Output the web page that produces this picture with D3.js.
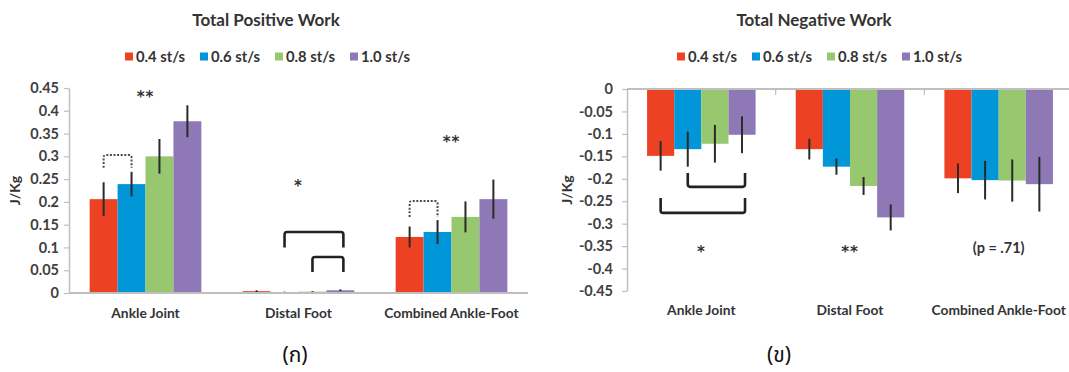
<!DOCTYPE html>
<html>
<head>
<meta charset="utf-8">
<script src="https://cdn.jsdelivr.net/npm/d3@7"></script>
<style>
  html, body { margin: 0; padding: 0; background: #fff; }
  svg { display: block; font-family: Lato, "Open Sans", sans-serif; }
  .caption { font-family: Tahoma, "Noto Sans Thai", "Noto Sans", "DejaVu Sans", sans-serif; }
</style>
</head>
<body>
<svg id="chart" width="1069" height="372"></svg>
<script>
// ---- data ----
const categories = ["Ankle Joint", "Distal Foot", "Combined Ankle-Foot"];
const speeds = ["0.4 st/s", "0.6 st/s", "0.8 st/s", "1.0 st/s"];

// Total positive work (J/Kg), one row per category, one value per speed
const positiveWork = [
  [0.206, 0.239, 0.300, 0.377],
  [0.004, 0.002, 0.003, 0.006],
  [0.123, 0.134, 0.167, 0.206]
];
const positiveErr = [
  [0.037, 0.027, 0.038, 0.035],
  [0.002, 0.001, 0.001, 0.002],
  [0.023, 0.026, 0.034, 0.043]
];

// Total negative work (J/Kg)
const negativeWork = [
  [-0.149, -0.134, -0.122, -0.102],
  [-0.134, -0.173, -0.216, -0.286],
  [-0.199, -0.203, -0.204, -0.212]
];
const negativeErr = [
  [0.033, 0.039, 0.042, 0.041],
  [0.023, 0.018, 0.020, 0.029],
  [0.033, 0.043, 0.047, 0.061]
];

const positiveTicks = [0, 0.05, 0.1, 0.15, 0.2, 0.25, 0.3, 0.35, 0.4, 0.45];
const positiveTickLabels = ["0", "0.05", "0.1", "0.15", "0.2", "0.25", "0.3", "0.35", "0.4", "0.45"];
const negativeTicks = [0, -0.05, -0.1, -0.15, -0.2, -0.25, -0.3, -0.35, -0.4, -0.45];
const negativeTickLabels = ["0", "-0.05", "-0.1", "-0.15", "-0.2", "-0.25", "-0.3", "-0.35", "-0.4", "-0.45"];

// significance marks: category index, label, value level
const positiveSig = [
  { cat: 0, label: "**", level: 0.439 },
  { cat: 1, label: "*", level: 0.244 },
  { cat: 2, label: "**", level: 0.342 }
];
const negativeSig = [
  { cat: 0, label: "*", level: -0.354 },
  { cat: 1, label: "**", level: -0.354 },
  { cat: 2, label: "(p = .71)", level: -0.354 }
];

// pairwise comparison brackets: category, from speed, to speed, leg start, leg end
const positiveBrackets = [
  { cat: 0, from: 0, to: 1, start: 0.275, end: 0.303, dotted: true },
  { cat: 2, from: 0, to: 1, start: 0.167, end: 0.202, dotted: true },
  { cat: 1, from: 1, to: 3, start: 0.100, end: 0.134, dotted: false },
  { cat: 1, from: 2, to: 3, start: 0.046, end: 0.079, dotted: false }
];
const negativeBrackets = [
  { cat: 0, from: 1, to: 3, start: -0.187, end: -0.218, dotted: false },
  { cat: 0, from: 0, to: 3, start: -0.243, end: -0.276, dotted: false }
];

// ---- styling ----
const palette = ["#ED4124", "#0096D8", "#97C76E", "#8E79B6"];
const axisGrey = "#BFBFBF";
const textDark = "#333333";
const tickText = "#404040";

const svg = d3.select("#chart");

function bracketPath(x1, x2, yStart, yEnd) {
  const r = 2.5;
  const dir = yEnd < yStart ? -1 : 1;
  return `M${x1},${yStart} L${x1},${yEnd - dir * r} Q${x1},${yEnd} ${x1 + r},${yEnd}` +
         ` L${x2 - r},${yEnd} Q${x2},${yEnd} ${x2},${yEnd - dir * r} L${x2},${yStart}`;
}

function drawLegend(g, x0, y0) {
  const item = g.append("g").attr("transform", `translate(${x0},${y0})`)
    .selectAll("g").data(speeds).join("g")
    .attr("transform", (d, i) => `translate(${i * 75},0)`);
  item.append("rect").attr("x", 0).attr("y", -4.5).attr("width", 8).attr("height", 8)
    .attr("fill", (d, i) => palette[i]);
  item.append("text").attr("x", 11).attr("y", 4.5)
    .attr("font-size", 14.8).attr("font-weight", "bold").attr("fill", textDark).text(d => d);
}

function drawPanel(cfg) {
  const g = svg.append("g");
  const x = d3.scaleBand().domain(categories).range(cfg.xRange)
    .paddingInner(cfg.pad).paddingOuter(cfg.pad / 2);
  const xs = d3.scaleBand().domain(d3.range(speeds.length)).range([0, x.bandwidth()]);
  const y = d3.scaleLinear().domain(cfg.yDomain).range(cfg.yRange);

  // title + legend
  g.append("text").attr("x", cfg.titleX).attr("y", 26).attr("text-anchor", "middle")
    .attr("font-size", 17).attr("font-weight", "bold").attr("fill", textDark).text(cfg.title);
  drawLegend(g, cfg.legendX, 57);

  // y axis
  const yAxis = g.append("g").attr("transform", `translate(${cfg.xRange[0]},0)`)
    .call(d3.axisLeft(y).tickValues(cfg.ticks).tickSize(5).tickSizeOuter(0)
      .tickPadding(cfg.tickPad).tickFormat((d, i) => cfg.tickLabels[i]));
  yAxis.select(".domain").attr("stroke", axisGrey).attr("stroke-width", 1.5);
  yAxis.selectAll(".tick line").attr("stroke", axisGrey).attr("stroke-width", 1.2);
  yAxis.selectAll(".tick text").attr("font-size", 14.5).attr("font-weight", "bold")
    .attr("fill", tickText).attr("font-family", "Lato, sans-serif");

  g.append("text")
    .attr("transform", `translate(${cfg.yLabelX},${(cfg.yRange[0] + cfg.yRange[1]) / 2}) rotate(-90)`)
    .attr("text-anchor", "middle").attr("dy", "0.35em")
    .attr("font-size", 14).attr("font-weight", "bold").attr("fill", textDark).text("J/Kg");

  // bars
  const rows = categories.map((c, ci) => cfg.values[ci].map((v, si) => ({ c, ci, si, v, e: cfg.errors[ci][si] })));
  const groups = g.append("g").selectAll("g").data(rows).join("g")
    .attr("transform", (d, i) => `translate(${x(categories[i])},0)`);
  groups.selectAll("rect").data(d => d).join("rect")
    .attr("x", d => xs(d.si)).attr("width", xs.bandwidth())
    .attr("y", d => Math.min(y(0), y(d.v)))
    .attr("height", d => Math.abs(y(d.v) - y(0)))
    .attr("fill", d => palette[d.si]);
  groups.selectAll("line.err").data(d => d).join("line").attr("class", "err")
    .attr("x1", d => xs(d.si) + xs.bandwidth() / 2).attr("x2", d => xs(d.si) + xs.bandwidth() / 2)
    .attr("y1", d => y(d.v - d.e)).attr("y2", d => y(d.v + d.e))
    .attr("stroke", "#2a2a2a").attr("stroke-width", 2);

  // zero line
  g.append("line").attr("x1", cfg.xRange[0]).attr("x2", Math.min(cfg.xRange[1], 1069))
    .attr("y1", y(0)).attr("y2", y(0)).attr("stroke", axisGrey).attr("stroke-width", 2);
  if (cfg.boundaryTicks) {
    const gap = (x.step() - x.bandwidth()) / 2;
    g.append("g").selectAll("line").data(categories.slice(0, -1)).join("line")
      .attr("x1", d => x(d) + x.bandwidth() + gap).attr("x2", d => x(d) + x.bandwidth() + gap)
      .attr("y1", y(0)).attr("y2", y(0) + 6).attr("stroke", axisGrey).attr("stroke-width", 1.2);
  }

  // category labels
  const xAxis = g.append("g").attr("transform", `translate(0,${cfg.catY})`)
    .call(d3.axisBottom(x).tickSize(0).tickPadding(0));
  xAxis.select(".domain").remove();
  xAxis.selectAll(".tick text").attr("font-size", 13.8).attr("font-weight", "bold")
    .attr("fill", textDark).attr("font-family", "Lato, sans-serif").attr("dy", 0);

  // brackets
  g.append("g").selectAll("path").data(cfg.brackets).join("path")
    .attr("d", b => {
      const bx = x(categories[b.cat]);
      const x1 = bx + xs(b.from) + xs.bandwidth() / 2;
      const x2 = bx + xs(b.to) + xs.bandwidth() / 2 + (b.dotted ? 0 : 3);
      return bracketPath(x1, x2, y(b.start), y(b.end));
    })
    .attr("fill", "none")
    .attr("stroke", b => b.dotted ? "#4a4a4a" : "#222")
    .attr("stroke-width", b => b.dotted ? 2 : 2.6)
    .attr("stroke-dasharray", b => b.dotted ? "2,1.6" : null);

  // significance labels
  const isStars = s => !s.label.startsWith("(");
  g.append("g").selectAll("text").data(cfg.sig).join("text")
    .attr("x", s => x(categories[s.cat]) + x.bandwidth() / 2)
    .attr("y", s => y(s.level))
    .attr("dy", s => isStars(s) ? "0.62em" : "0.35em")
    .attr("text-anchor", "middle")
    .attr("font-family", s => isStars(s) ? "'DejaVu Sans', sans-serif" : null)
    .attr("font-size", s => isStars(s) ? 15 : 14.5)
    .attr("letter-spacing", s => isStars(s) ? 1 : 0)
    .attr("font-weight", "bold").attr("fill", textDark).text(s => s.label);
}

drawPanel({
  title: "Total Positive Work", titleX: 266, legendX: 125,
  xRange: [69, 528], pad: 0.27,
  yDomain: [0, 0.45], yRange: [293, 88],
  ticks: positiveTicks, tickLabels: positiveTickLabels, tickPad: 5,
  yLabelX: 15, catY: 318,
  values: positiveWork, errors: positiveErr,
  brackets: positiveBrackets, sig: positiveSig, boundaryTicks: false
});

drawPanel({
  title: "Total Negative Work", titleX: 814, legendX: 677,
  xRange: [627, 1073], pad: 0.27,
  yDomain: [-0.45, 0], yRange: [291, 89],
  ticks: negativeTicks, tickLabels: negativeTickLabels, tickPad: 9,
  yLabelX: 567, catY: 315,
  values: negativeWork, errors: negativeErr,
  brackets: negativeBrackets, sig: negativeSig, boundaryTicks: true
});

// panel captions
svg.append("text").attr("class", "caption").attr("x", 295).attr("y", 362)
  .attr("text-anchor", "middle").attr("font-size", 21).attr("fill", "#111").text("(ก)");
svg.append("text").attr("class", "caption").attr("x", 779).attr("y", 362)
  .attr("text-anchor", "middle").attr("font-size", 21).attr("fill", "#111").text("(ข)");
</script>
</body>
</html>
